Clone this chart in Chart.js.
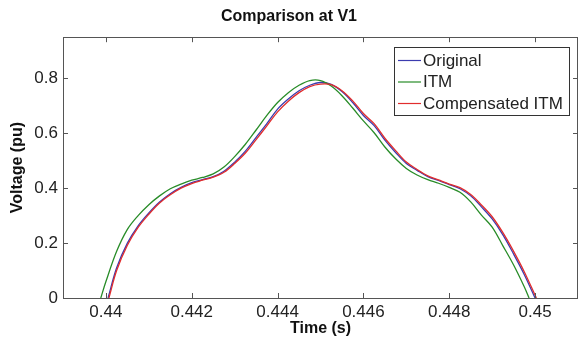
<!DOCTYPE html>
<html>
<head>
<meta charset="utf-8">
<script src="https://cdn.jsdelivr.net/npm/chart.js@4/dist/chart.umd.min.js"></script>
<style>
    html, body { margin: 0; padding: 0; background: #fff; }
    #wrap { width: 578px; height: 341px; position: relative; }
</style>
</head>
<body>
<div id="wrap"><canvas id="chart"></canvas></div>
<script>
const seriesNames = ['Original', 'ITM', 'Compensated ITM'];
const seriesColors = ['rgb(60,60,175)', 'rgb(40,140,40)', 'rgb(225,45,45)'];

const originalTime = [0.44005, 0.44025, 0.4405, 0.44075, 0.441, 0.44125, 0.4415, 0.44175, 0.442, 0.44225,
    0.4425, 0.44275, 0.443, 0.44325, 0.4435, 0.44375, 0.444, 0.44425, 0.4445, 0.44475,
    0.445, 0.44525, 0.4455, 0.44575, 0.446, 0.44625, 0.4465, 0.44675, 0.447, 0.44725,
    0.4475, 0.44775, 0.448, 0.44825, 0.4485, 0.44875, 0.449, 0.44925, 0.4495, 0.44975, 0.45];
const originalVolt = [0, 0.110, 0.200, 0.263, 0.310, 0.350, 0.380, 0.403, 0.420, 0.431,
    0.442, 0.462, 0.495, 0.535, 0.585, 0.635, 0.688, 0.725, 0.755, 0.775,
    0.785, 0.778, 0.752, 0.712, 0.665, 0.628, 0.575, 0.530, 0.490, 0.465,
    0.442, 0.428, 0.413, 0.398, 0.372, 0.332, 0.288, 0.230, 0.160, 0.085, 0];

const itmTime = [0.43988, 0.44, 0.44025, 0.4405, 0.44075, 0.441, 0.44125, 0.4415, 0.44175, 0.442, 0.44225,
    0.4425, 0.44275, 0.443, 0.44325, 0.4435, 0.44375, 0.444, 0.44425, 0.4445, 0.44475,
    0.445, 0.44525, 0.4455, 0.44575, 0.446, 0.44625, 0.4465, 0.44675, 0.447, 0.44725,
    0.4475, 0.44775, 0.448, 0.44825, 0.4485, 0.44875, 0.449, 0.44925, 0.4495, 0.44975, 0.44986];
const itmVolt = [0, 0.060, 0.170, 0.250, 0.300, 0.340, 0.372, 0.398, 0.415, 0.429, 0.439,
    0.452, 0.477, 0.515, 0.560, 0.612, 0.665, 0.712, 0.748, 0.775, 0.792,
    0.792, 0.772, 0.737, 0.692, 0.645, 0.602, 0.550, 0.507, 0.472, 0.448,
    0.431, 0.418, 0.403, 0.385, 0.350, 0.302, 0.258, 0.190, 0.120, 0.040, 0];

const compTime = [0.44007, 0.44025, 0.4405, 0.44075, 0.441, 0.44125, 0.4415, 0.44175, 0.442, 0.44225,
    0.4425, 0.44275, 0.443, 0.44325, 0.4435, 0.44375, 0.444, 0.44425, 0.4445, 0.44475,
    0.445, 0.44525, 0.4455, 0.44575, 0.446, 0.44625, 0.4465, 0.44675, 0.447, 0.44725,
    0.4475, 0.44775, 0.448, 0.44825, 0.4485, 0.44875, 0.449, 0.44925, 0.4495, 0.44975, 0.45003];
const compVolt = [0, 0.100, 0.192, 0.257, 0.305, 0.346, 0.376, 0.400, 0.417, 0.429,
    0.440, 0.458, 0.490, 0.528, 0.577, 0.627, 0.678, 0.717, 0.748, 0.770,
    0.779, 0.777, 0.755, 0.718, 0.672, 0.635, 0.582, 0.537, 0.495, 0.468,
    0.445, 0.430, 0.415, 0.402, 0.377, 0.339, 0.296, 0.238, 0.170, 0.095, 0];

const xTicks = [0.44, 0.442, 0.444, 0.446, 0.448, 0.45];
const yTicks = [0, 0.2, 0.4, 0.6, 0.8];

const FONT = "'Liberation Sans', Arial, Helvetica, sans-serif";

function toPoints(times, values) {
    return times.map((t, i) => ({ x: t, y: values[i] }));
}

// MATLAB-style box with inward ticks on all four sides, plus the inset legend
const framePlugin = {
    id: 'frame',
    afterDatasetsDraw(chart) {
        const { ctx, chartArea: a, scales: { x, y } } = chart;
        ctx.save();
        ctx.strokeStyle = '#555';
        ctx.lineWidth = 1;
        ctx.beginPath();
        x.ticks.forEach(t => {
            const px = Math.round(x.getPixelForValue(t.value)) + 0.5;
            ctx.moveTo(px, a.bottom); ctx.lineTo(px, a.bottom - 5);
            ctx.moveTo(px, a.top); ctx.lineTo(px, a.top + 5);
        });
        y.ticks.forEach(t => {
            const py = Math.round(y.getPixelForValue(t.value)) + 0.5;
            ctx.moveTo(a.left, py); ctx.lineTo(a.left + 5, py);
            ctx.moveTo(a.right, py); ctx.lineTo(a.right - 5, py);
        });
        ctx.stroke();
        ctx.strokeRect(Math.round(a.left) + 0.5, Math.round(a.top) + 0.5,
            Math.round(a.right - a.left) - 1, Math.round(a.bottom - a.top));

        // legend
        const bx = 394.5, by = 47.5, bw = 175, bh = 68;
        ctx.fillStyle = '#fff';
        ctx.fillRect(bx, by, bw, bh);
        ctx.strokeStyle = '#333';
        ctx.strokeRect(bx, by, bw, bh);
        ctx.font = '17px ' + FONT;
        ctx.textBaseline = 'middle';
        seriesNames.forEach((name, i) => {
            const ry = 60 + i * 21.5;
            ctx.strokeStyle = seriesColors[i];
            ctx.lineWidth = 1.2;
            ctx.beginPath();
            ctx.moveTo(398, ry + 0.5); ctx.lineTo(421, ry + 0.5);
            ctx.stroke();
            ctx.fillStyle = '#222';
            ctx.fillText(name, 423, ry + 1);
        });
        ctx.restore();
    }
};

function drawChart() {
    const ctx = document.getElementById('chart').getContext('2d');
    new Chart(ctx, {
        type: 'line',
        data: {
            datasets: [
                { label: seriesNames[0], data: toPoints(originalTime, originalVolt), borderColor: seriesColors[0], order: 2 },
                { label: seriesNames[1], data: toPoints(itmTime, itmVolt), borderColor: seriesColors[1], order: 1 },
                { label: seriesNames[2], data: toPoints(compTime, compVolt), borderColor: seriesColors[2], order: 0 },
            ],
        },
        options: {
            responsive: true,
            maintainAspectRatio: false,
            animation: false,
            devicePixelRatio: 1,
            elements: {
                point: { radius: 0 },
                line: { borderWidth: 1.3, tension: 0.35, fill: false },
            },
            layout: { padding: { top: 0, right: 0, bottom: 0, left: 0 } },
            plugins: {
                legend: { display: false },
                tooltip: { enabled: false },
                title: {
                    display: true,
                    text: 'Comparison at V1',
                    color: '#111',
                    font: { family: FONT, size: 16, weight: 'bold' },
                    padding: { top: 7, bottom: 11 },
                },
            },
            scales: {
                x: {
                    type: 'linear',
                    min: 0.439,
                    max: 0.451,
                    grid: { display: false, drawTicks: false },
                    border: { display: false },
                    afterBuildTicks: scale => { scale.ticks = xTicks.map(v => ({ value: v })); },
                    afterFit: scale => { scale.height = 43; },
                    ticks: {
                        color: '#222',
                        padding: 4,
                        maxRotation: 0,
                        font: { family: FONT, size: 17 },
                        callback: v => String(Number(v.toFixed(3))),
                    },
                    title: {
                        display: true,
                        text: 'Time (s)',
                        color: '#111',
                        font: { family: FONT, size: 16, weight: 'bold' },
                        padding: { top: 0, bottom: 3 },
                    },
                },
                y: {
                    min: 0,
                    max: 0.95,
                    grid: { display: false, drawTicks: false },
                    border: { display: false },
                    afterBuildTicks: scale => { scale.ticks = yTicks.map(v => ({ value: v })); },
                    afterFit: scale => { scale.width = 63; },
                    ticks: {
                        color: '#222',
                        padding: 5,
                        font: { family: FONT, size: 17 },
                        callback: v => String(Number(v.toFixed(1))),
                    },
                    title: {
                        display: true,
                        text: 'Voltage (pu)',
                        color: '#111',
                        font: { family: FONT, size: 16, weight: 'bold' },
                        padding: { top: 8, bottom: 0 },
                    },
                },
            },
        },
        plugins: [framePlugin],
    });
}

window.onload = () => {
    drawChart();
};
</script>
</body>
</html>
